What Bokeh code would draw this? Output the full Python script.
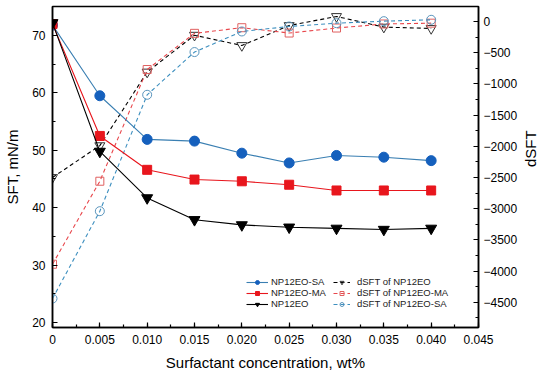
import math
from bokeh.plotting import figure
from bokeh.models import (Range1d, LinearAxis, SingleIntervalTicker,
                          CustomJSTickFormatter, Legend, LegendItem)
from bokeh.embed import file_html
from bokeh.resources import INLINE

# ---- data ----
conc = [0.000, 0.005, 0.010, 0.015, 0.020, 0.025, 0.030, 0.035, 0.040]
sft_sa = [71.8, 59.5, 51.9, 51.6, 49.5, 47.8, 49.1, 48.8, 48.2]
sft_ma = [72.0, 52.5, 46.6, 44.9, 44.6, 44.0, 43.0, 43.0, 43.0]
sft_eo = [72.2, 49.8, 41.7, 37.9, 37.0, 36.6, 36.4, 36.2, 36.4]
dsft_eo = [-2500, -1990, -810, -220, -385, -65, 80, -90, -112]
dsft_ma = [-3890, -2560, -770, -190, -100, -185, -105, -40, -27]
dsft_sa = [-4440, -3040, -1175, -490, -160, -80, -27, 5, 27]

FONT = "Liberation Sans"
BLUE_L = "#3a7fb2"
BLUE_M = "#1560bd"
RED = "#e8161d"
RED_D = "#e8474c"
BLUE_D = "#3d8fbf"

p = figure(width=550, height=378, output_backend="svg", toolbar_location=None,
           x_range=Range1d(0, 0.045), y_range=Range1d(19.13, 75.05),
           min_border_left=52, min_border_right=65, min_border_top=6,
           min_border_bottom=51)
p.extra_y_ranges = {"d": Range1d(-4904, 240)}
p.grid.visible = False
p.outline_line_color = "black"
p.outline_line_width = 1.5
p.background_fill_color = "white"
p.border_fill_color = "white"


def style(ax, label_standoff, tick_standoff):
    ax.axis_line_width = 1.5
    ax.axis_line_color = "black"
    ax.major_tick_in = 5
    ax.major_tick_out = 0
    ax.minor_tick_in = 3
    ax.minor_tick_out = 0
    ax.major_tick_line_width = 1.2
    ax.minor_tick_line_width = 1.2
    ax.major_label_text_font = FONT
    ax.major_label_text_font_size = "12px"
    ax.major_label_text_color = "black"
    ax.axis_label_text_font = FONT
    ax.axis_label_text_font_size = "15px"
    ax.axis_label_text_font_style = "normal"
    ax.axis_label_text_color = "black"
    ax.axis_label_standoff = label_standoff
    ax.major_label_standoff = tick_standoff


xa = p.xaxis[0]
xa.ticker = SingleIntervalTicker(interval=0.005, num_minor_ticks=2)
xa.formatter = CustomJSTickFormatter(code="return Math.abs(tick) < 1e-9 ? '0' : tick.toFixed(3);")
xa.axis_label = "Surfactant concentration, wt%"
style(xa, 7, 7)

ya = p.yaxis[0]
ya.ticker = SingleIntervalTicker(interval=10, num_minor_ticks=2)
ya.axis_label = "SFT, mN/m"
style(ya, 8, 7)

ra = LinearAxis(y_range_name="d", axis_label="dSFT")
ra.ticker = SingleIntervalTicker(interval=500, num_minor_ticks=2)
ra.formatter = CustomJSTickFormatter(
    code="return tick < 0 ? '\\u2212' + Math.abs(tick).toFixed(0) : tick.toFixed(0);")
style(ra, 10, 5)
try:
    ra.axis_label_orientation = math.pi / 2
except Exception:
    pass
p.add_layout(ra, "right")

# ---- dSFT series (dashed, open markers) ----
d_eo_l = p.line(conc, dsft_eo, y_range_name="d", line_color="black",
                line_width=1.1, line_dash="4 3")
d_eo_m = p.scatter(conc, dsft_eo, y_range_name="d", marker="inverted_triangle",
                   size=10, line_color="#333333", fill_color=None, line_width=1)
d_ma_l = p.line(conc, dsft_ma, y_range_name="d", line_color=RED_D,
                line_width=1.1, line_dash="4 3")
d_ma_m = p.scatter(conc, dsft_ma, y_range_name="d", marker="square",
                   size=8, line_color="#e06060", fill_color=None, line_width=1)
d_sa_l = p.line(conc, dsft_sa, y_range_name="d", line_color=BLUE_D,
                line_width=1.1, line_dash="4 3")
d_sa_m = p.scatter(conc, dsft_sa, y_range_name="d", marker="circle",
                   size=9, line_color="#5a95bd", fill_color=None, line_width=1)

# ---- SFT series (solid, filled markers) ----
sa_l = p.line(conc, sft_sa, line_color=BLUE_L, line_width=1.1)
sa_m = p.scatter(conc, sft_sa, marker="circle", size=10,
                 fill_color=BLUE_M, line_color=BLUE_M)
ma_l = p.line(conc, sft_ma, line_color=RED, line_width=1.1)
ma_m = p.scatter(conc, sft_ma, marker="square", size=9,
                 fill_color=RED, line_color=RED)
eo_l = p.line(conc, sft_eo, line_color="black", line_width=1.1)
eo_m = p.scatter(conc, sft_eo, marker="inverted_triangle", size=11,
                 fill_color="black", line_color="black")


def mk_legend(items, x, y, gw, standoff):
    lg = Legend(items=items, location=(x, y), orientation="vertical",
                padding=0, margin=0, spacing=0, glyph_width=gw,
                glyph_height=10, label_height=10, label_standoff=standoff,
                label_text_font=FONT, label_text_font_size="9.5px",
                label_text_color="#222222", background_fill_alpha=0,
                border_line_color=None)
    p.add_layout(lg)


mk_legend([LegendItem(label="NP12EO-SA", renderers=[sa_l, sa_m]),
           LegendItem(label="NP12EO-MA", renderers=[ma_l, ma_m]),
           LegendItem(label="NP12EO", renderers=[eo_l, eo_m])],
          194, 18, 22, 3)
mk_legend([LegendItem(label="dSFT of NP12EO", renderers=[d_eo_l, d_eo_m]),
           LegendItem(label="dSFT of NP12EO-MA", renderers=[d_ma_l, d_ma_m]),
           LegendItem(label="dSFT of NP12EO-SA", renderers=[d_sa_l, d_sa_m])],
          281, 18, 17, 7)

open("out.html", "w").write(file_html(p, INLINE))
